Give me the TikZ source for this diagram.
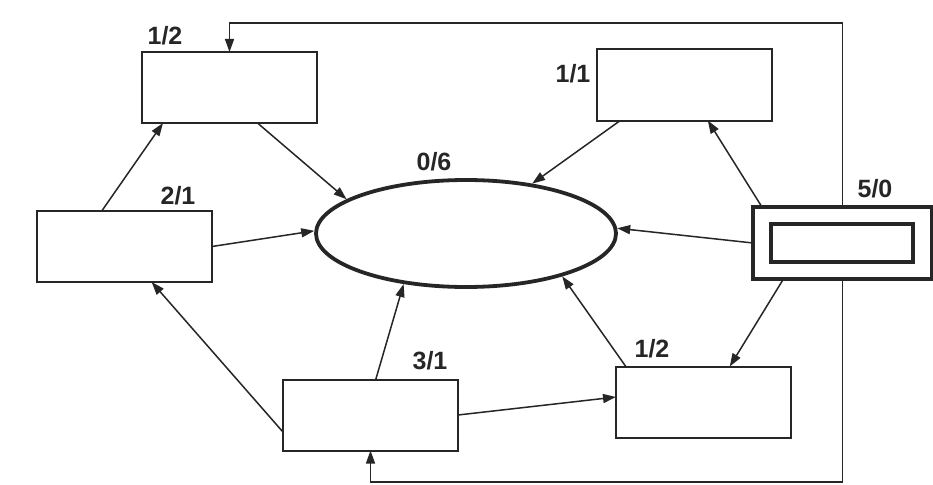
\documentclass[tikz,border=0pt]{standalone}
\usepackage{fontspec}
\setmainfont{Liberation Sans}
\usetikzlibrary{arrows.meta,calc,shapes.geometric}
\begin{document}
\begin{tikzpicture}[x=1pt,y=-1pt,
  ink/.style={draw=black!85},
  boxnode/.style={ink,line width=2pt,minimum width=175pt,minimum height=71pt,inner sep=0pt,outer sep=0pt,fill=white},
  lbl/.style={font=\fontsize{25}{30}\selectfont\bfseries,text=black!85,inner sep=0pt},
  conn/.style={ink,line width=1.5pt,-{Triangle[length=13pt,width=9pt]}}
]
\useasboundingbox (0,0) rectangle (933,484);
\fill[white] (0,0) rectangle (933,484);
% feedback coordinates
\coordinate (tl) at (0,23);
\coordinate (bl) at (0,482);
% nodes
\node[boxnode] (A) at (229.5,87.5) {};
\node[boxnode] (B) at (684,85) {};
\node[boxnode] (C) at (124.5,246.5) {};
\node[ellipse,ink,line width=3.8pt,minimum width=300pt,minimum height=107pt,inner sep=0pt,fill=white] (E) at (466,233.5) {};
\node[boxnode] (D) at (370.5,415) {};
\node[boxnode] (F) at (703.5,402) {};
\node[boxnode,line width=4.5pt,minimum width=179pt,minimum height=72pt] (G) at (842.5,243) {};
\node[ink,line width=3.2pt,minimum width=142pt,minimum height=38pt,inner sep=0pt] (Gi) at (842,243) {};
% labels
\node[lbl] (lA) at (165,36) {1/2};
\node[lbl] (lB) at (573,74) {1/1};
\node[lbl] (lC) at (178,196) {2/1};
\node[lbl] (lE) at (434,162) {0/6};
\node[lbl] (lG) at (875,189) {5/0};
\node[lbl] (lD) at (430,361) {3/1};
\node[lbl] (lF) at (652,349) {1/2};
% connectors
\draw[conn] ($(C.north west)!0.37!(C.north east)$) -- ($(A.south west)!0.12!(A.south east)$);
\draw[conn] ($(A.south west)!0.66!(A.south east)$) -- (E.164);
\draw[conn] (C.east) -- (E.179);
\draw[conn] ($(B.south west)!0.136!(B.south east)$) -- (E.37.5);
\draw[conn] ($(G.north west)!0.05!(G.north east)$) -- ($(B.south west)!0.636!(B.south east)$);
\draw[conn] (G.west) -- (E.2);
\draw[conn] ($(G.south west)!0.17!(G.south east)$) -- ($(F.north west)!0.65!(F.north east)$);
\draw[conn] ($(F.north west)!0.056!(F.north east)$) -- (E.-24);
\draw[conn] ($(D.north west)!0.53!(D.north east)$) -- (E.219);
\draw[conn] ($(D.north west)!0.74!(D.south west)$) -- ($(C.south west)!0.655!(C.south east)$);
\draw[conn] (D.east) -- ($(F.north west)!0.43!(F.south west)$);
% feedback loops
\draw[conn] (G.north) |- (A.north |- tl) -- (A.north);
\draw[conn] (G.south) |- (D.south |- bl) -- (D.south);
\end{tikzpicture}
\end{document}
